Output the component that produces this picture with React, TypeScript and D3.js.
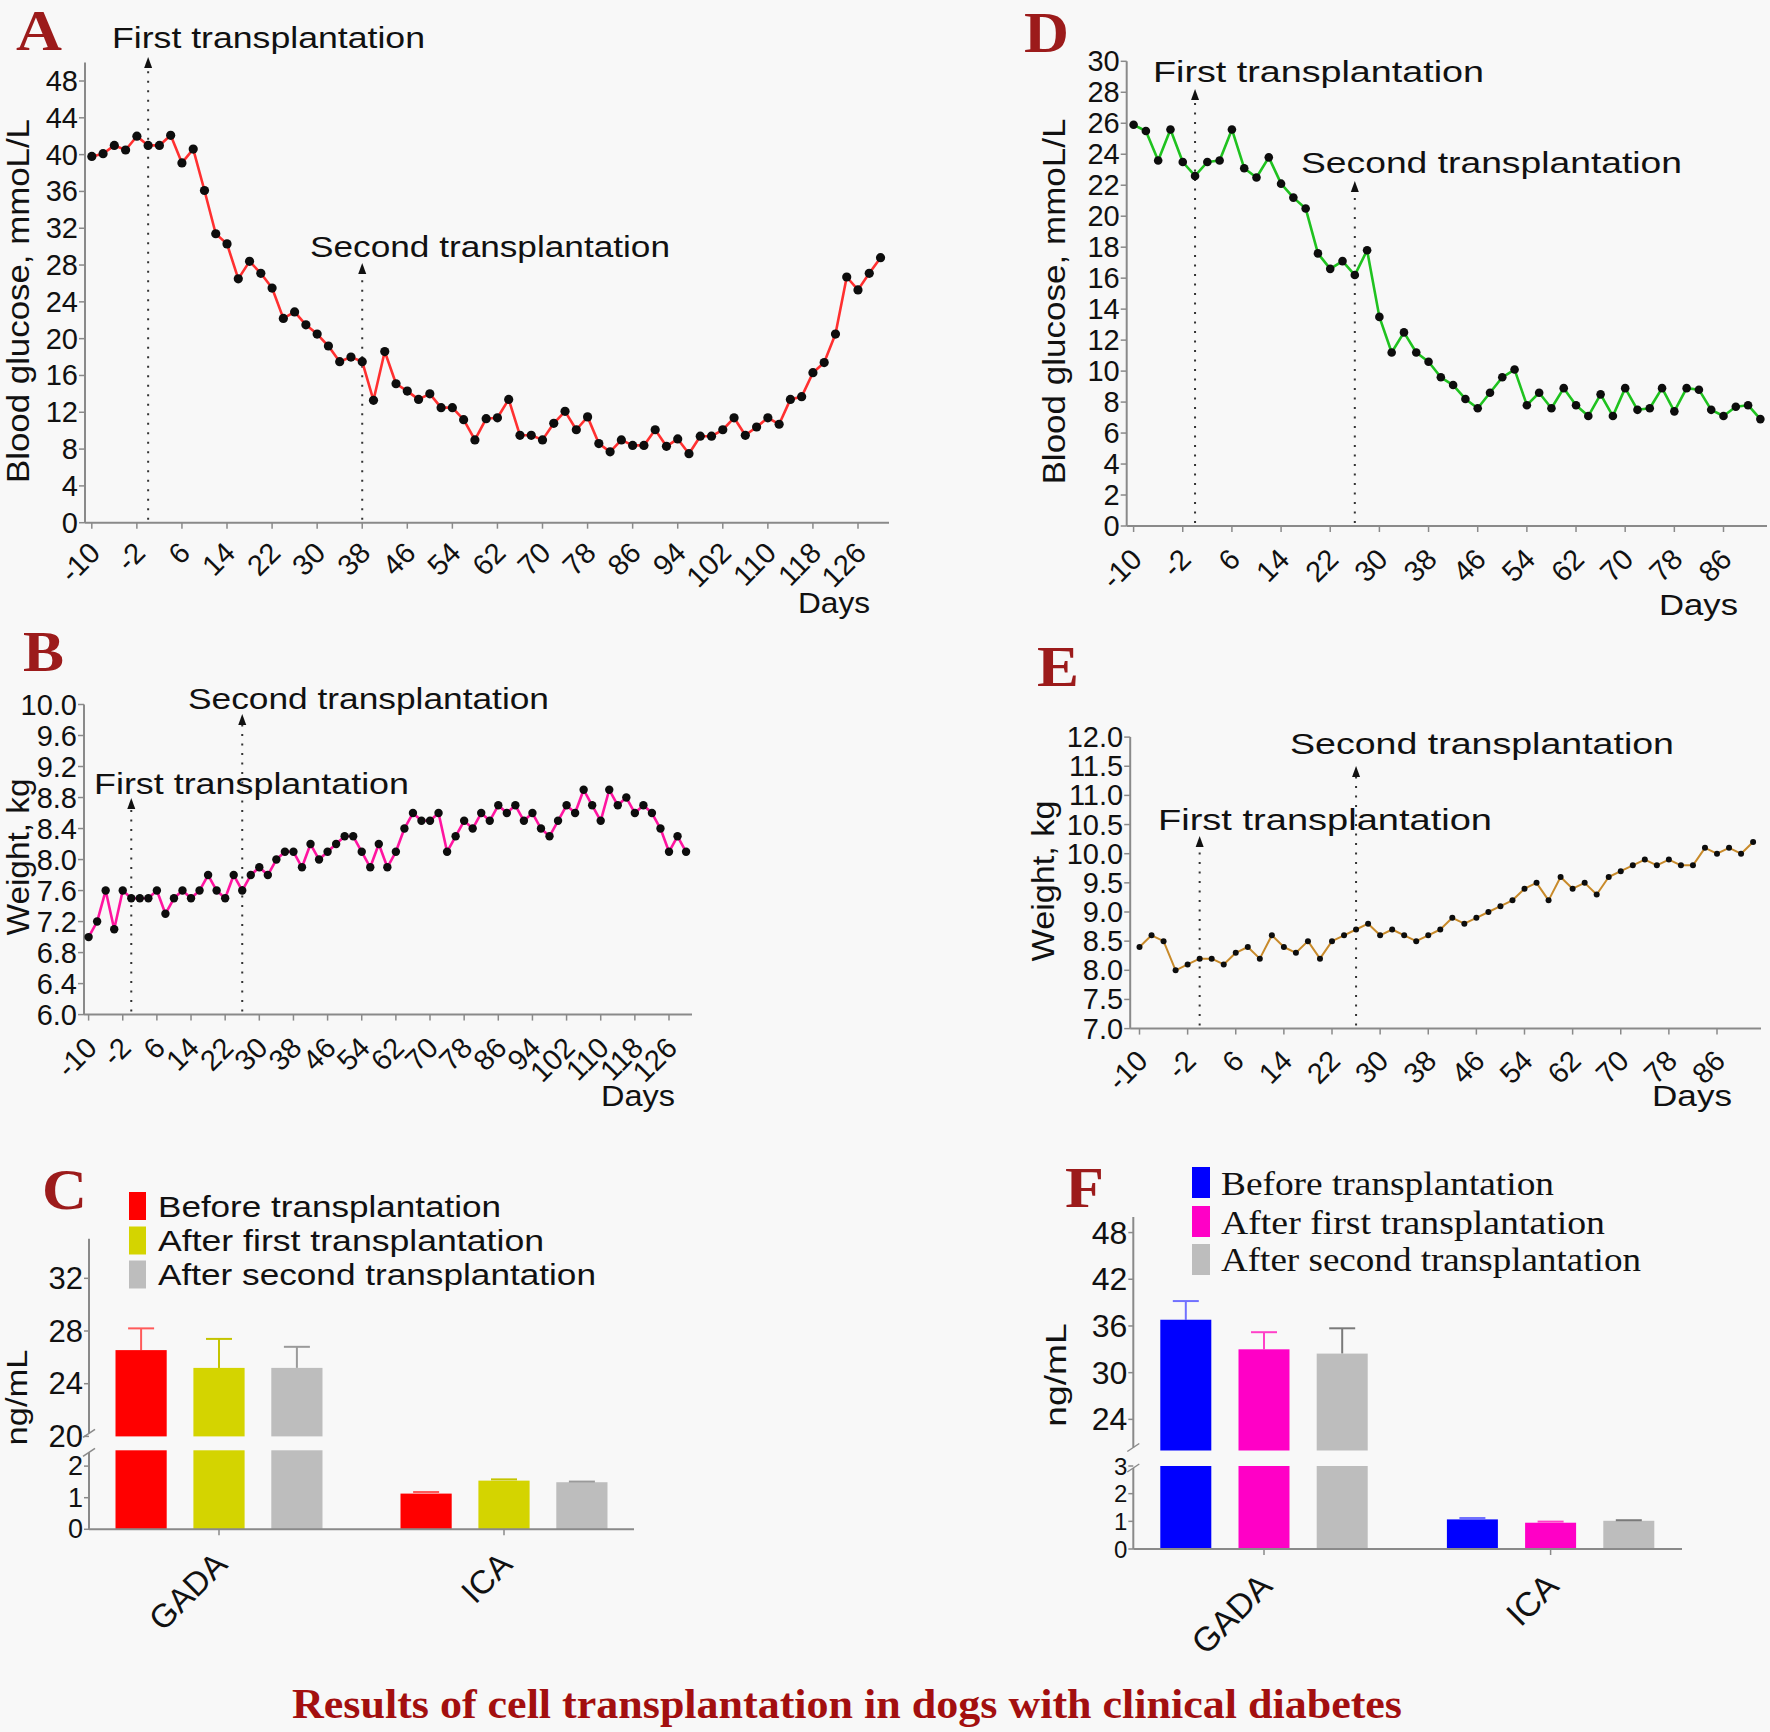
import React from "react";
import * as d3 from "d3";

// ---------------- DATA ----------------
// Panel A: blood glucose (mmol/L), dog 1, every 2 days from day -10
const A_DAYS = d3.range(-10, 131, 2);
const A_GLUCOSE = [39.8, 40.1, 41.0, 40.5, 42.0, 41.0, 41.0, 42.1, 39.1, 40.6, 36.1, 31.4, 30.3, 26.5, 28.4, 27.1, 25.5, 22.2, 22.9, 21.5, 20.5, 19.2, 17.5, 18.0, 17.5, 13.3, 18.6, 15.1, 14.3, 13.4, 14.0, 12.5, 12.5, 11.2, 9.0, 11.3, 11.4, 13.4, 9.5, 9.5, 9.0, 10.8, 12.1, 10.1, 11.5, 8.6, 7.7, 9.0, 8.4, 8.4, 10.1, 8.3, 9.1, 7.5, 9.4, 9.4, 10.1, 11.4, 9.5, 10.4, 11.4, 10.7, 13.4, 13.7, 16.3, 17.4, 20.5, 26.7, 25.3, 27.1, 28.8];
const A_TRANSPLANT_DAYS = [0, 38];
const A_X_TICKS = [-10, -2, 6, 14, 22, 30, 38, 46, 54, 62, 70, 78, 86, 94, 102, 110, 118, 126];
const A_Y_TICKS = [0, 4, 8, 12, 16, 20, 24, 28, 32, 36, 40, 44, 48];

// Panel B: weight (kg), dog 1
const B_DAYS = d3.range(-10, 131, 2);
const B_WEIGHT = [7.0, 7.2, 7.6, 7.1, 7.6, 7.5, 7.5, 7.5, 7.6, 7.3, 7.5, 7.6, 7.5, 7.6, 7.8, 7.6, 7.5, 7.8, 7.6, 7.8, 7.9, 7.8, 8.0, 8.1, 8.1, 7.9, 8.2, 8.0, 8.1, 8.2, 8.3, 8.3, 8.1, 7.9, 8.2, 7.9, 8.1, 8.4, 8.6, 8.5, 8.5, 8.6, 8.1, 8.3, 8.5, 8.4, 8.6, 8.5, 8.7, 8.6, 8.7, 8.5, 8.6, 8.4, 8.3, 8.5, 8.7, 8.6, 8.9, 8.7, 8.5, 8.9, 8.7, 8.8, 8.6, 8.7, 8.6, 8.4, 8.1, 8.3, 8.1];
const B_TRANSPLANT_DAYS = [0, 26];
const B_X_TICKS = [-10, -2, 6, 14, 22, 30, 38, 46, 54, 62, 70, 78, 86, 94, 102, 110, 118, 126];
const B_Y_TICKS = [6.0, 6.4, 6.8, 7.2, 7.6, 8.0, 8.4, 8.8, 9.2, 9.6, 10.0];

// Panel D: blood glucose (mmol/L), dog 2
const D_DAYS = d3.range(-10, 93, 2);
const D_GLUCOSE = [25.9, 25.5, 23.6, 25.6, 23.5, 22.6, 23.5, 23.6, 25.6, 23.1, 22.5, 23.8, 22.1, 21.2, 20.5, 17.6, 16.6, 17.1, 16.2, 17.8, 13.5, 11.2, 12.5, 11.2, 10.6, 9.6, 9.1, 8.2, 7.6, 8.6, 9.6, 10.1, 7.8, 8.6, 7.6, 8.9, 7.8, 7.1, 8.5, 7.1, 8.9, 7.5, 7.6, 8.9, 7.4, 8.9, 8.8, 7.5, 7.1, 7.7, 7.8, 6.9];
const D_TRANSPLANT_DAYS = [0, 26];
const D_X_TICKS = [-10, -2, 6, 14, 22, 30, 38, 46, 54, 62, 70, 78, 86];
const D_Y_TICKS = [0, 2, 4, 6, 8, 10, 12, 14, 16, 18, 20, 22, 24, 26, 28, 30];

// Panel E: weight (kg), dog 2
const E_DAYS = d3.range(-10, 93, 2);
const E_WEIGHT = [8.4, 8.6, 8.5, 8.0, 8.1, 8.2, 8.2, 8.1, 8.3, 8.4, 8.2, 8.6, 8.4, 8.3, 8.5, 8.2, 8.5, 8.6, 8.7, 8.8, 8.6, 8.7, 8.6, 8.5, 8.6, 8.7, 8.9, 8.8, 8.9, 9.0, 9.1, 9.2, 9.4, 9.5, 9.2, 9.6, 9.4, 9.5, 9.3, 9.6, 9.7, 9.8, 9.9, 9.8, 9.9, 9.8, 9.8, 10.1, 10.0, 10.1, 10.0, 10.2];
const E_TRANSPLANT_DAYS = [0, 26];
const E_X_TICKS = [-10, -2, 6, 14, 22, 30, 38, 46, 54, 62, 70, 78, 86];
const E_Y_TICKS = [7.0, 7.5, 8.0, 8.5, 9.0, 9.5, 10.0, 10.5, 11.0, 11.5, 12.0];

// Panels C and F: antibodies (ng/mL)
const BAR_CATEGORIES = ["GADA", "ICA"];
const BAR_SERIES = ["Before transplantation", "After first transplantation", "After second transplantation"];
const C_MEANS = [[26.55, 25.2, 25.2], [1.13, 1.54, 1.49]];
const C_ERR_TOPS = [[28.2, 27.4, 26.8], [1.18, 1.58, 1.51]];
const C_UPPER_TICKS = [20, 24, 28, 32];
const C_LOWER_TICKS = [0, 1, 2];
const F_MEANS = [[36.8, 33.0, 32.45], [1.07, 0.95, 1.02]];
const F_ERR_TOPS = [[39.2, 35.2, 35.7], [1.12, 0.99, 1.04]];
const F_UPPER_TICKS = [24, 30, 36, 42, 48];
const F_LOWER_TICKS = [0, 1, 2, 3];

// ---------------- STYLE ----------------
const SANS = "'Liberation Sans', Arial, Helvetica, sans-serif";
const SERIF = "'Liberation Serif', 'Times New Roman', Times, serif";
const AXIS = "#8a8a8a";
const LETTER = "#9c1b1b";

type TxtProps = {
  x: number; y: number; len?: number; size: number; font?: string; weight?: string | number;
  fill?: string; anchor?: "start" | "middle" | "end"; rot?: number; baseline?: string; children: React.ReactNode;
};
function Txt({ x, y, len, size, font = SANS, weight = "normal", fill = "#111", anchor = "start", rot, baseline, children }: TxtProps) {
  const common: any = {
    fontSize: size, fontFamily: font, fontWeight: weight, fill, textAnchor: anchor,
    dominantBaseline: baseline,
  };
  if (len) { common.textLength = len; common.lengthAdjust = "spacingAndGlyphs"; }
  if (rot !== undefined) return <text transform={`translate(${x},${y}) rotate(${rot})`} {...common}>{children}</text>;
  return <text x={x} y={y} {...common}>{children}</text>;
}

type Ann = { text: string; x: number; y: number; len: number };
type LineCfg = {
  days: number[]; values: number[];
  dRef: [number, number]; pxRef: [number, number];
  yDom: [number, number]; yPix: [number, number]; axisTopVal: number;
  yTicks: number[]; yDec: number; xTicks: number[];
  axisX: number; axisRight: number;
  color: string; lw: number; r: number;
  transplants: number[]; arrowTops: number[];
  tickDy: number; tickSize: number; yTickSize: number;
  anns: Ann[];
  days_lbl: Ann;
  yTitle: { text: string; x: number; y: number; len: number };
};

function LinePanel({ c }: { c: LineCfg }) {
  const x = d3.scaleLinear().domain(c.dRef).range(c.pxRef);
  const y = d3.scaleLinear().domain(c.yDom).range(c.yPix);
  const y0 = y(c.yDom[0]);
  const yTop = y(c.axisTopVal);
  const line = d3.line<number>().x((_, i) => x(c.days[i])).y((v) => y(v));
  return (
    <g>
      <line x1={c.axisX} x2={c.axisX} y1={yTop} y2={y0} stroke={AXIS} strokeWidth={2} />
      <line x1={c.axisX} x2={c.axisRight} y1={y0} y2={y0} stroke={AXIS} strokeWidth={2} />
      {c.yTicks.map((t) => (
        <g key={"y" + t}>
          <line x1={c.axisX - 6} x2={c.axisX} y1={y(t)} y2={y(t)} stroke={AXIS} strokeWidth={1.5} />
          <Txt x={c.axisX - 7} y={y(t)} size={c.yTickSize} anchor="end" baseline="central">{t.toFixed(c.yDec)}</Txt>
        </g>
      ))}
      {c.xTicks.map((t) => (
        <g key={"x" + t}>
          <line x1={x(t)} x2={x(t)} y1={y0} y2={y0 + 6} stroke={AXIS} strokeWidth={1.5} />
          <Txt x={x(t) + 10} y={y0 + c.tickDy} size={c.tickSize} anchor="end" rot={-45}>{String(t)}</Txt>
        </g>
      ))}
      {c.transplants.map((d, i) => {
        const xx = x(d);
        const top = c.arrowTops[i];
        return (
          <g key={"tp" + i}>
            <line x1={xx} x2={xx} y1={y0 - 3} y2={top + 10} stroke="#333" strokeWidth={2} strokeDasharray="2 7.5" />
            <path d={`M${xx},${top} L${xx - 4},${top + 11} L${xx + 4},${top + 11} Z`} fill="#111" />
          </g>
        );
      })}
      <path d={line(c.values) || ""} fill="none" stroke={c.color} strokeWidth={c.lw} strokeLinejoin="round" />
      {c.values.map((v, i) => (
        <circle key={i} cx={x(c.days[i])} cy={y(v)} r={c.r} fill="#0d0d0d" />
      ))}
      {c.anns.map((a, i) => (
        <Txt key={"a" + i} x={a.x} y={a.y} size={30} len={a.len}>{a.text}</Txt>
      ))}
      <Txt x={c.days_lbl.x} y={c.days_lbl.y} size={30} len={c.days_lbl.len}>{c.days_lbl.text}</Txt>
      <Txt x={c.yTitle.x} y={c.yTitle.y} size={31} len={c.yTitle.len} anchor="middle" rot={-90}>{c.yTitle.text}</Txt>
    </g>
  );
}

type BarCfg = {
  means: number[][]; errTops: number[][]; colors: string[]; errColors: string[];
  upperDom: [number, number]; upperPix: [number, number];
  lowerDom: [number, number]; lowerPix: [number, number];
  upperTicks: number[]; lowerTicks: number[];
  groupPix: [number, number]; step: number; barW: number;
  axisX: number; axisRight: number; tickSize: number; lowerTickSize: number;
  labelDy: number; labelSize: number;
  legend: { swX: number; swW: number; swYs: number[]; swH: number; tx: number; bases: number[]; lens: number[]; font: string; size: number };
  yTitle: { x: number; y: number; len: number };
};

function BarPanel({ c }: { c: BarCfg }) {
  const yU = d3.scaleLinear().domain(c.upperDom).range(c.upperPix);
  const yL = d3.scaleLinear().domain(c.lowerDom).range(c.lowerPix);
  const gx = d3.scalePoint<string>().domain(BAR_CATEGORIES).range(c.groupPix);
  const half = (c.step * 2 + c.barW) / 2;
  const inner = d3.scaleBand<string>().domain(BAR_SERIES).range([-half, half]).paddingInner(1 - c.barW / c.step).paddingOuter(0);
  const uBottom = yU(c.upperDom[0]);
  const uTop = yU(c.upperDom[1]);
  const lTop = yL(c.lowerDom[1]);
  const base = yL(0);
  const ax = c.axisX;
  const capW = 26;
  return (
    <g>
      {BAR_CATEGORIES.map((cat, ci) =>
        BAR_SERIES.map((s, si) => {
          const v = c.means[ci][si];
          const e = c.errTops[ci][si];
          const bx = (gx(cat) as number) + (inner(s) as number);
          const cx = bx + c.barW / 2;
          const col = c.colors[si];
          if (v > c.lowerDom[1]) {
            return (
              <g key={cat + s}>
                <line x1={cx} x2={cx} y1={yU(v)} y2={yU(e)} stroke={c.errColors[si]} strokeWidth={2} />
                <line x1={cx - capW / 2} x2={cx + capW / 2} y1={yU(e)} y2={yU(e)} stroke={c.errColors[si]} strokeWidth={2} />
                <rect x={bx} y={yU(v)} width={c.barW} height={uBottom - yU(v)} fill={col} />
                <rect x={bx} y={lTop} width={c.barW} height={base - lTop} fill={col} />
              </g>
            );
          }
          return (
            <g key={cat + s}>
              <rect x={bx} y={yL(v)} width={c.barW} height={base - yL(v)} fill={col} />
              <line x1={cx - capW / 2} x2={cx + capW / 2} y1={yL(e)} y2={yL(e)} stroke={c.errColors[si]} strokeWidth={2} />
            </g>
          );
        })
      )}
      <line x1={ax} x2={ax} y1={uTop} y2={uBottom - 3} stroke={AXIS} strokeWidth={2} />
      <line x1={ax} x2={ax} y1={lTop + 2} y2={base} stroke={AXIS} strokeWidth={2} />
      <line x1={ax - 6} x2={ax + 6} y1={uBottom + 1} y2={uBottom - 7} stroke={AXIS} strokeWidth={1.5} />
      <line x1={ax - 6} x2={ax + 6} y1={lTop + 6} y2={lTop - 2} stroke={AXIS} strokeWidth={1.5} />
      <line x1={ax} x2={c.axisRight} y1={base} y2={base} stroke={AXIS} strokeWidth={2} />
      {c.upperTicks.map((t) => (
        <g key={"u" + t}>
          <line x1={ax - 5} x2={ax} y1={yU(t)} y2={yU(t)} stroke={AXIS} strokeWidth={1.5} />
          <Txt x={ax - 6} y={yU(t)} size={c.tickSize} anchor="end" baseline="central">{String(t)}</Txt>
        </g>
      ))}
      {c.lowerTicks.map((t) => (
        <g key={"l" + t}>
          <line x1={ax - 5} x2={ax} y1={yL(t)} y2={yL(t)} stroke={AXIS} strokeWidth={1.5} />
          <Txt x={ax - 6} y={yL(t)} size={c.lowerTickSize} anchor="end" baseline="central">{String(t)}</Txt>
        </g>
      ))}
      {BAR_CATEGORIES.map((cat) => (
        <g key={"c" + cat}>
          <line x1={gx(cat)} x2={gx(cat)} y1={base} y2={base + 6} stroke={AXIS} strokeWidth={1.5} />
          <Txt x={(gx(cat) as number) + 10} y={base + c.labelDy} size={c.labelSize} anchor="end" rot={-45}>{cat}</Txt>
        </g>
      ))}
      {BAR_SERIES.map((s, i) => (
        <g key={"lg" + s}>
          <rect x={c.legend.swX} y={c.legend.swYs[i]} width={c.legend.swW} height={c.legend.swH} fill={c.colors[i]} />
          <Txt x={c.legend.tx} y={c.legend.bases[i]} size={c.legend.size} font={c.legend.font} len={c.legend.lens[i]}>{s}</Txt>
        </g>
      ))}
      <Txt x={c.yTitle.x} y={c.yTitle.y} size={30} len={c.yTitle.len} anchor="middle" rot={-90}>ng/mL</Txt>
    </g>
  );
}

export default function App() {
  const cfgA: LineCfg = {
    days: A_DAYS, values: A_GLUCOSE, dRef: [-10, 126], pxRef: [91.8, 858],
    yDom: [0, 48], yPix: [522.7, 81], axisTopVal: 50, yTicks: A_Y_TICKS, yDec: 0, xTicks: A_X_TICKS,
    axisX: 85, axisRight: 889, color: "#ff3030", lw: 2.6, r: 4.6,
    transplants: A_TRANSPLANT_DAYS, arrowTops: [57, 263], tickDy: 32, tickSize: 29, yTickSize: 29,
    anns: [
      { text: "First transplantation", x: 112, y: 48, len: 313 },
      { text: "Second transplantation", x: 310, y: 257, len: 360 },
    ],
    days_lbl: { text: "Days", x: 798, y: 613, len: 72 },
    yTitle: { text: "Blood glucose, mmoL/L", x: 29, y: 301, len: 364 },
  };
  const cfgB: LineCfg = {
    days: B_DAYS, values: B_WEIGHT, dRef: [-10, 126], pxRef: [88.6, 669],
    yDom: [6, 10], yPix: [1014.6, 704.5], axisTopVal: 10, yTicks: B_Y_TICKS, yDec: 1, xTicks: B_X_TICKS,
    axisX: 84, axisRight: 692, color: "#ff14a0", lw: 2.6, r: 4.2,
    transplants: B_TRANSPLANT_DAYS, arrowTops: [798, 714], tickDy: 35, tickSize: 29, yTickSize: 29,
    anns: [
      { text: "Second transplantation", x: 188, y: 709, len: 361 },
      { text: "First transplantation", x: 94, y: 794, len: 315 },
    ],
    days_lbl: { text: "Days", x: 601, y: 1106, len: 74 },
    yTitle: { text: "Weight, kg", x: 29, y: 857, len: 157 },
  };
  const cfgD: LineCfg = {
    days: D_DAYS, values: D_GLUCOSE, dRef: [-10, 86], pxRef: [1133.6, 1723.5],
    yDom: [0, 30], yPix: [526, 61.3], axisTopVal: 30, yTicks: D_Y_TICKS, yDec: 0, xTicks: D_X_TICKS,
    axisX: 1126.7, axisRight: 1767, color: "#1fc21f", lw: 2.6, r: 4.3,
    transplants: D_TRANSPLANT_DAYS, arrowTops: [89, 181], tickDy: 35, tickSize: 29, yTickSize: 29,
    anns: [
      { text: "First transplantation", x: 1153, y: 82, len: 331 },
      { text: "Second transplantation", x: 1301, y: 173, len: 381 },
    ],
    days_lbl: { text: "Days", x: 1659, y: 615, len: 79 },
    yTitle: { text: "Blood glucose, mmoL/L", x: 1065, y: 301.5, len: 366 },
  };
  const cfgE: LineCfg = {
    days: E_DAYS, values: E_WEIGHT, dRef: [-10, 86], pxRef: [1139.5, 1717],
    yDom: [7, 12], yPix: [1028.6, 737.1], axisTopVal: 12, yTicks: E_Y_TICKS, yDec: 1, xTicks: E_X_TICKS,
    axisX: 1130.2, axisRight: 1761, color: "#c88a2a", lw: 2, r: 3,
    transplants: E_TRANSPLANT_DAYS, arrowTops: [836, 766], tickDy: 34, tickSize: 29, yTickSize: 29,
    anns: [
      { text: "Second transplantation", x: 1290, y: 754, len: 384 },
      { text: "First transplantation", x: 1158, y: 830, len: 334 },
    ],
    days_lbl: { text: "Days", x: 1652, y: 1106, len: 80 },
    yTitle: { text: "Weight, kg", x: 1054, y: 881, len: 161 },
  };
  const cfgC: BarCfg = {
    means: C_MEANS, errTops: C_ERR_TOPS,
    colors: ["#ff0000", "#d4d400", "#bdbdbd"], errColors: ["#ff5a5a", "#c4c400", "#9a9a9a"],
    upperDom: [20, 35], upperPix: [1436.4, 1238.8], lowerDom: [0, 2.5], lowerPix: [1529.3, 1450.3],
    upperTicks: C_UPPER_TICKS, lowerTicks: C_LOWER_TICKS,
    groupPix: [219, 504], step: 77.9, barW: 51.2, axisX: 89, axisRight: 634, tickSize: 31, lowerTickSize: 27,
    labelDy: 37, labelSize: 33,
    legend: { swX: 129, swW: 17, swYs: [1192, 1226.5, 1260.5], swH: 28, tx: 158, bases: [1216.5, 1250.5, 1284.5], lens: [343, 386, 438], font: SANS, size: 30 },
    yTitle: { x: 27, y: 1397.5, len: 96 },
  };
  const cfgF: BarCfg = {
    means: F_MEANS, errTops: F_ERR_TOPS,
    colors: ["#0000ff", "#ff00c6", "#bdbdbd"], errColors: ["#7070ff", "#ff40c8", "#7a7a7a"],
    upperDom: [20, 50], upperPix: [1450.5, 1217], lowerDom: [0, 3], lowerPix: [1549, 1466],
    upperTicks: F_UPPER_TICKS, lowerTicks: F_LOWER_TICKS,
    groupPix: [1264, 1550.6], step: 78.2, barW: 51, axisX: 1133.3, axisRight: 1682, tickSize: 32, lowerTickSize: 24,
    labelDy: 39, labelSize: 34,
    legend: { swX: 1192, swW: 18, swYs: [1167, 1206, 1244], swH: 31, tx: 1221, bases: [1195, 1233.5, 1271], lens: [333, 384, 420], font: SERIF, size: 33 },
    yTitle: { x: 1066, y: 1375, len: 103.5 },
  };

  return (
    <svg width={1770} height={1732} viewBox="0 0 1770 1732" style={{ position: "absolute", left: 0, top: 0, display: "block" }}>
      <rect x={0} y={0} width={1770} height={1732} fill="#f8f8f8" />
      <LinePanel c={cfgA} />
      <LinePanel c={cfgB} />
      <LinePanel c={cfgD} />
      <LinePanel c={cfgE} />
      <BarPanel c={cfgC} />
      <BarPanel c={cfgF} />
      <Txt x={16} y={50} size={56} font={SERIF} weight="bold" fill={LETTER} len={46}>A</Txt>
      <Txt x={23} y={671} size={58} font={SERIF} weight="bold" fill={LETTER} len={41}>B</Txt>
      <Txt x={42} y={1209} size={58} font={SERIF} weight="bold" fill={LETTER} len={45}>C</Txt>
      <Txt x={1024} y={52} size={56} font={SERIF} weight="bold" fill={LETTER} len={45}>D</Txt>
      <Txt x={1037} y={686} size={58} font={SERIF} weight="bold" fill={LETTER} len={42}>E</Txt>
      <Txt x={1065} y={1207} size={58} font={SERIF} weight="bold" fill={LETTER} len={39}>F</Txt>
      <Txt x={292} y={1718} size={42} font={SERIF} weight="bold" fill="#a30f0f" len={1110}>Results of cell transplantation in dogs with clinical diabetes</Txt>
    </svg>
  );
}
